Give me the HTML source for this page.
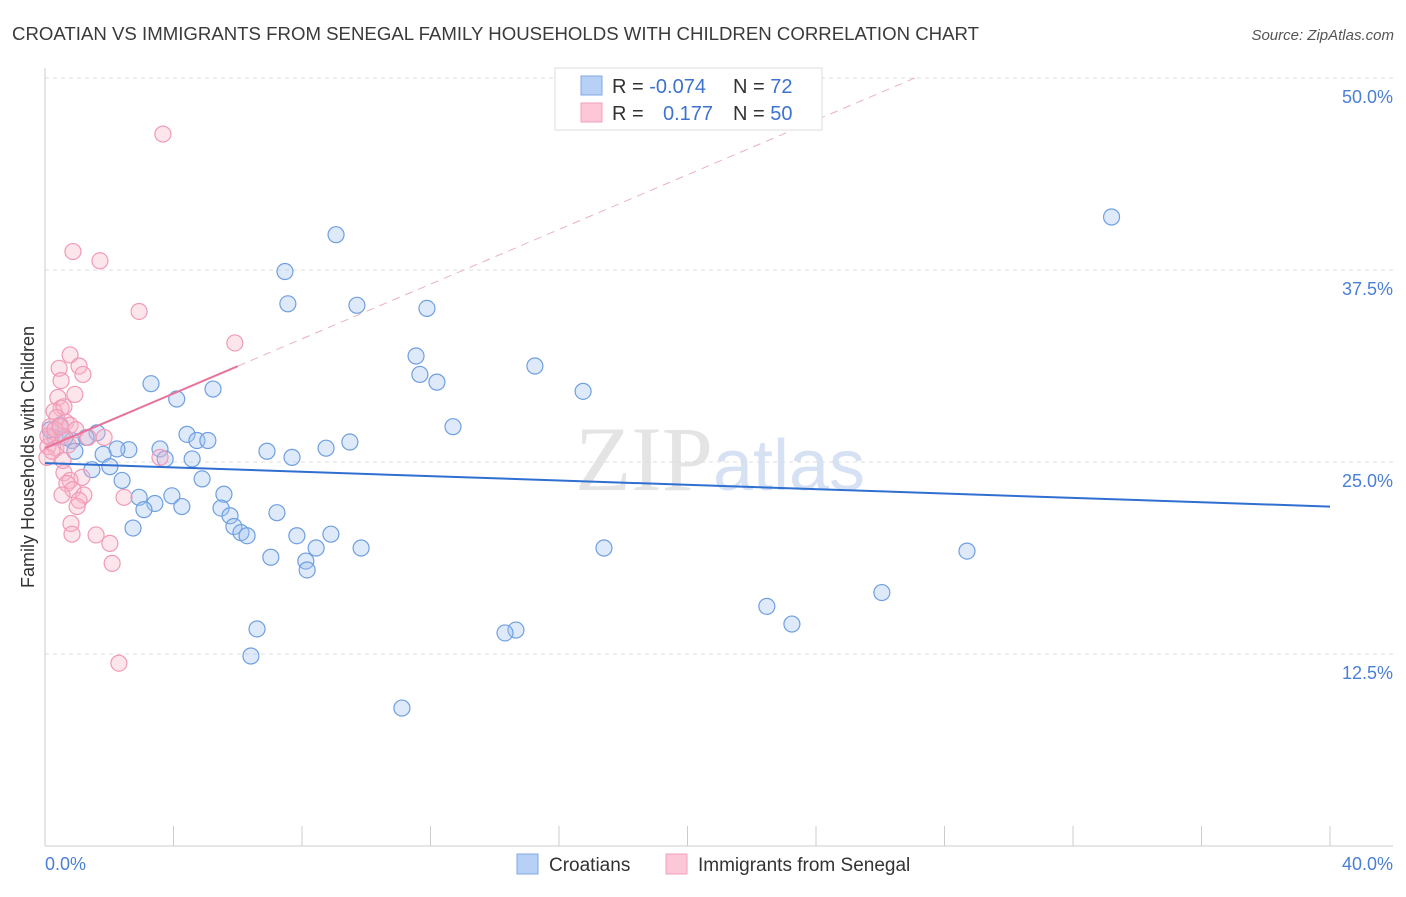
<!DOCTYPE html>
<html><head><meta charset="utf-8"><style>
body{margin:0;background:#fff;font-family:"Liberation Sans",sans-serif}
</style></head><body>
<svg id="chart" width="1406" height="892" xmlns="http://www.w3.org/2000/svg" font-family="Liberation Sans, sans-serif">
<text x="12" y="40" font-size="18" fill="#3a3a3a" textLength="967" lengthAdjust="spacingAndGlyphs">CROATIAN VS IMMIGRANTS FROM SENEGAL FAMILY HOUSEHOLDS WITH CHILDREN CORRELATION CHART</text>
<text x="1394" y="40" font-size="15" fill="#555" font-style="italic" text-anchor="end">Source: ZipAtlas.com</text>
<text x="720" y="490" font-size="92" text-anchor="middle" font-family="Liberation Serif, serif" fill="#e4e4e4">ZIP<tspan fill="#d6e2f3" font-family="Liberation Sans, sans-serif" font-size="72">atlas</tspan></text>
<g id="grid"></g>
<g id="axes"></g>
<g id="marks"></g>
<text transform="translate(34,457) rotate(-90)" font-size="18" fill="#333" text-anchor="middle">Family Households with Children</text>
<g>
<rect x="555" y="68" width="267" height="62" fill="#fff" stroke="#ddd"/>
<rect x="581" y="76" width="21" height="19" fill="#b7d0f5" stroke="#7ea8e6"/>
<rect x="581" y="103" width="21" height="19" fill="#fcc8d8" stroke="#f0a0bb"/>
<text x="612" y="93" font-size="20" fill="#333">R = <tspan fill="#3d73cf">-0.074</tspan><tspan x="733">N = </tspan><tspan fill="#3d73cf">72</tspan></text>
<text x="612" y="120" font-size="20" fill="#333">R = <tspan x="663" fill="#3d73cf">0.177</tspan><tspan x="733">N = </tspan><tspan fill="#3d73cf">50</tspan></text>
</g>
<g>
<rect x="517" y="854" width="21" height="20" fill="#b7d0f5" stroke="#7ea8e6"/>
<text x="549" y="871" font-size="19" fill="#333">Croatians</text>
<rect x="666" y="854" width="21" height="20" fill="#fcc8d8" stroke="#f0a0bb"/>
<text x="698" y="871" font-size="19" fill="#333">Immigrants from Senegal</text>
</g>
</svg>
<script>
const yTicks=[12.5,25,37.5,50];
const yTickLabels=["12.5%","25.0%","37.5%","50.0%"];
const xTickLabels=["0.0%","40.0%"];
const blueX=[33.2,9.06,7.47,7.56,9.71,11.89,11.55,15.25,11.67,12.2,16.75,3.3,4.1,5.23,12.7,4.42,4.73,5.07,9.49,8.75,6.91,3.58,2.61,2.24,1.62,1.28,0.84,0.31,0.93,1.81,2.02,1.46,2.4,3.74,4.58,4.89,7.69,2.93,3.95,3.42,4.26,3.08,5.57,5.48,5.76,5.88,6.1,6.29,7.22,7.84,8.9,8.44,2.74,9.84,17.4,28.7,7.03,8.12,8.16,26.05,22.47,23.25,14.66,14.32,6.6,6.41,11.11,0.47,0.62,0.16];
const blueY=[40.95,39.8,37.4,35.3,35.2,35.0,31.9,31.25,30.7,30.2,29.6,30.1,29.1,29.75,27.3,26.8,26.4,26.4,26.3,25.9,25.7,25.85,25.8,25.85,26.9,26.6,26.4,26.6,25.7,25.5,24.7,24.5,23.8,25.2,25.2,23.9,25.3,22.7,22.8,22.3,22.1,21.9,22.9,22.0,21.5,20.8,20.4,20.2,21.7,20.2,20.3,19.4,20.7,19.4,19.4,19.2,18.8,18.55,17.97,16.5,15.6,14.45,14.06,13.87,14.13,12.37,8.98,27.4,26.6,27.1];
const pinkX=[3.67,0.87,1.71,2.93,5.91,0.78,1.06,0.44,1.18,0.5,0.93,0.4,0.5,0.28,0.59,0.37,0.65,0.78,0.16,0.96,0.19,0.53,1.84,0.09,0.34,0.06,3.58,0.59,1.15,0.78,0.68,0.87,0.53,1.21,2.46,1.06,1.0,0.81,0.84,1.59,2.02,2.09,2.3,0.09,0.31,1.34,0.56,0.22,0.72,0.47];
const pinkY=[46.35,38.7,38.1,34.8,32.75,31.97,31.25,31.1,30.7,30.3,29.4,29.2,28.5,28.3,28.6,27.9,27.6,27.4,27.3,27.1,26.6,26.7,26.6,26.0,25.9,25.3,25.3,24.3,24.0,23.8,23.6,23.2,22.85,22.85,22.7,22.5,22.1,21.0,20.3,20.25,19.7,18.4,11.9,26.7,27.1,26.6,25.1,25.7,26.1,27.3];
const blueTrend=[24.93,-0.0708]; // intercept, slope
const pinkTrend=[25.9,0.89];
const pinkSolidEnd=6.0, pinkDashEnd=27.1;

const NS="http://www.w3.org/2000/svg";
const X0=45,X1=1330,Y0=846,PXY=15.36;
const xs=v=>X0+v*(X1-X0)/40;
const ys=v=>Y0-v*PXY;
function mk(t,a,p){const e=document.createElementNS(NS,t);for(const k in a)e.setAttribute(k,a[k]);p.appendChild(e);return e;}
const grid=document.getElementById('grid'),axes=document.getElementById('axes'),marks=document.getElementById('marks');
yTicks.forEach((t,i)=>{
 const l=mk('line',{x1:X0,x2:1393,y1:ys(t),y2:ys(t),stroke:'#dcdcdc','stroke-dasharray':'4,4'},grid);
 
 
 const tx=mk('text',{x:1393,y:ys(t)+25,'font-size':18,fill:'#4a7fd6','text-anchor':'end'},axes);
 tx.textContent=yTickLabels[i];
 
 
});
const ax=mk('line',{x1:X0,x2:1393,y1:Y0,y2:Y0,stroke:'#ccc'},axes);


const ay=mk('line',{x1:X0,x2:X0,y1:68,y2:Y0,stroke:'#ccc'},axes);


for(let i=0;i<=10;i++){
 const t=mk('line',{x1:xs(i*4),x2:xs(i*4),y1:826,y2:Y0,stroke:'#ccc'},axes);
 
 
}
[[0,'start',X0],[1,'end',1393]].forEach(([i,a,x])=>{
 const t=mk('text',{x:x,y:870,'font-size':18,fill:'#4a7fd6','text-anchor':a},axes);
 t.textContent=xTickLabels[i];
 
 
});
blueX.forEach((v,i)=>{
 const c=mk('circle',{cx:xs(v),cy:ys(blueY[i]),r:8,fill:'rgba(160,195,240,0.35)',stroke:'#6f9fe0','stroke-width':1.2},marks);
 
 
});
pinkX.forEach((v,i)=>{
 const c=mk('circle',{cx:xs(v),cy:ys(pinkY[i]),r:8,fill:'rgba(248,180,200,0.35)',stroke:'#f09ab6','stroke-width':1.2},marks);
 
 
});
const bl=mk('line',{x1:xs(0),y1:ys(blueTrend[0]),x2:xs(40),y2:ys(blueTrend[0]+40*blueTrend[1]),stroke:'#2f6fd0','stroke-width':2},marks);


const pd=mk('line',{x1:xs(pinkSolidEnd),y1:ys(pinkTrend[0]+pinkSolidEnd*pinkTrend[1]),x2:xs(pinkDashEnd),y2:ys(pinkTrend[0]+pinkDashEnd*pinkTrend[1]),stroke:'#eab0c4','stroke-width':1,'stroke-dasharray':'8,6'},marks);


const pl=mk('line',{x1:xs(0),y1:ys(pinkTrend[0]),x2:xs(pinkSolidEnd),y2:ys(pinkTrend[0]+pinkSolidEnd*pinkTrend[1]),stroke:'#e8739a','stroke-width':2},marks);


</script>
</body></html>
